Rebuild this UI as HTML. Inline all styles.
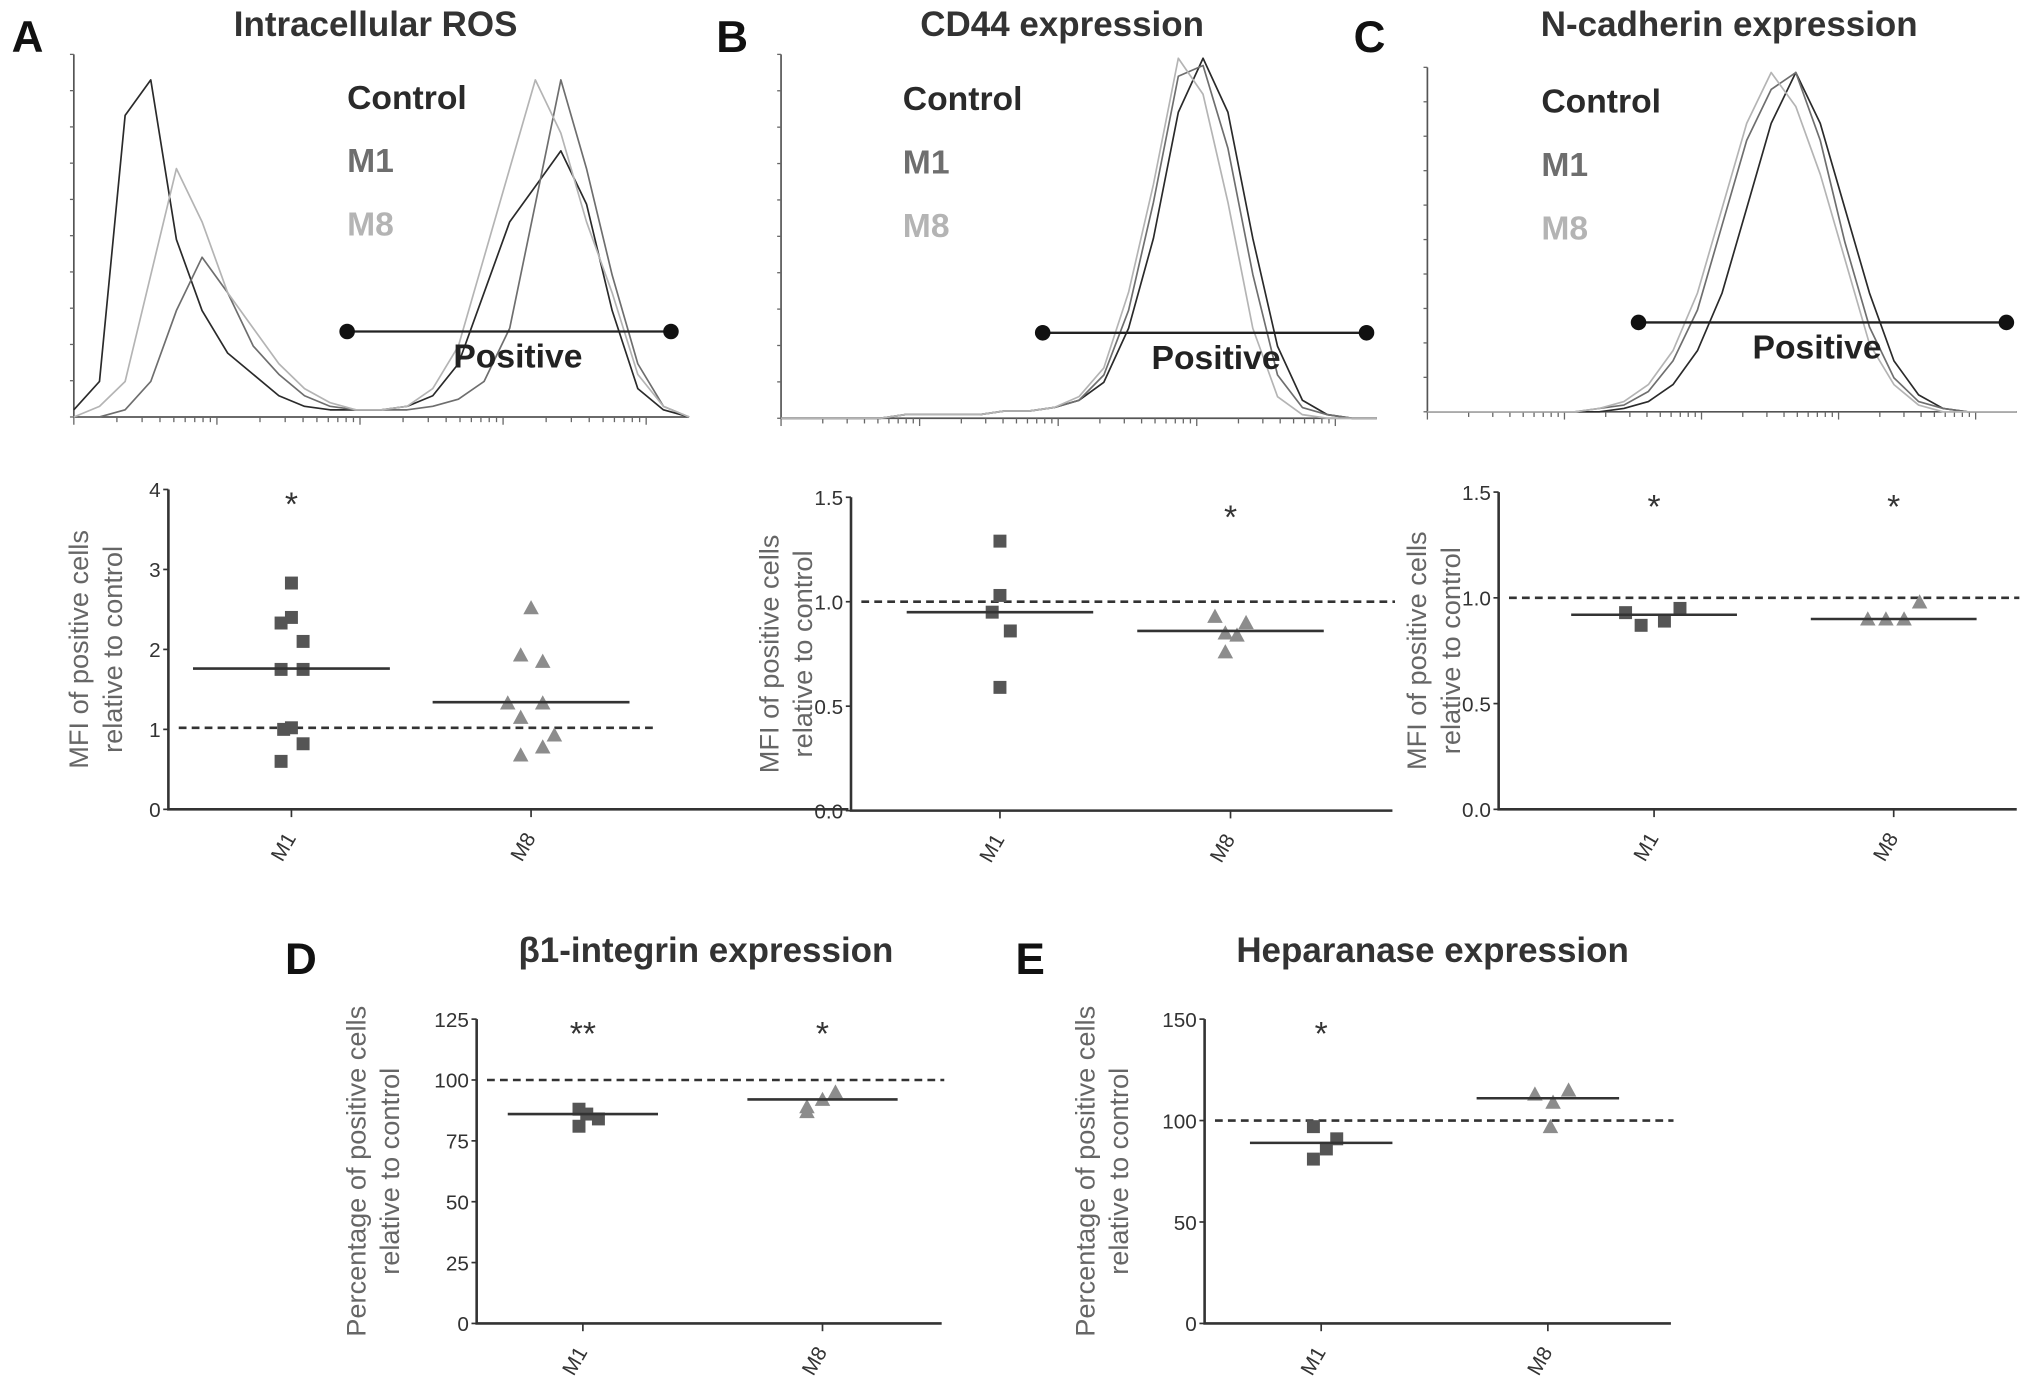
<!DOCTYPE html>
<html><head><meta charset="utf-8"><style>
html,body{margin:0;padding:0;background:#fff;}
svg{display:block;font-family:"Liberation Sans",sans-serif;}
</style></head><body>
<svg id="fig" width="2031" height="1383" viewBox="0 0 1568 1068" preserveAspectRatio="none" xmlns="http://www.w3.org/2000/svg">
<g font-weight="bold" font-size="34" fill="#111">
<text x="9" y="40">A</text>
<text x="553" y="40">B</text>
<text x="1045" y="40">C</text>
<text x="220" y="752">D</text>
<text x="784" y="752">E</text>
</g>
<g font-size="27" font-weight="bold" fill="#333" text-anchor="middle">
<text x="290" y="28">Intracellular ROS</text>
<text x="820" y="28">CD44 expression</text>
<text x="1335" y="28">N-cadherin expression</text>
<text x="545" y="743">β1-integrin expression</text>
<text x="1106" y="743">Heparanase expression</text>
</g>
<g id="layer"></g>
</svg>
<script>
// ---------- histogram data (relative counts, 25 bins across the axis) ----------
const histBins = 25;
const rosControl = [2,10,85,95,50,30,18,12,6,3,2,2,2,3,6,15,35,55,65,75,60,30,8,2,0];
const rosM1 = [0,0,2,10,30,45,35,20,12,6,3,2,2,2,3,5,10,25,60,95,70,40,15,3,0];
const rosM8 = [0,3,10,40,70,55,35,25,15,8,4,2,2,3,8,20,45,70,95,80,55,35,12,3,0];
const cd44Control = [0,0,0,0,0,1,1,1,1,2,2,3,5,10,25,50,85,100,85,50,20,5,1,0,0];
const cd44M1 = [0,0,0,0,0,1,1,1,1,2,2,3,5,12,30,60,95,98,75,40,12,3,1,0,0];
const cd44M8 = [0,0,0,0,0,1,1,1,1,2,2,3,6,14,35,65,100,90,60,25,6,1,0,0,0];
const ncadControl = [0,0,0,0,0,0,0,0,1,3,8,18,35,60,85,100,85,60,35,15,5,1,0,0,0];
const ncadM1 = [0,0,0,0,0,0,0,1,2,6,15,30,55,80,95,100,80,50,25,10,3,1,0,0,0];
const ncadM8 = [0,0,0,0,0,0,0,1,3,8,18,35,60,85,100,90,70,45,20,8,2,0,0,0,0];
const legendLabels = ["Control","M1","M8"];

// ---------- scatter data ----------
const categories = ["M1","M8"];
const aM1 = [2.83,2.4,2.33,2.1,1.75,1.75,1.02,1.0,0.82,0.6];
const aM8 = [2.52,1.93,1.85,1.33,1.33,1.15,0.93,0.78,0.68];
const aMeans = [1.76,1.34];
const aTicks = ["0","1","2","3","4"];
const bM1 = [1.29,1.03,0.95,0.86,0.59];
const bM8 = [0.93,0.9,0.84,0.85,0.76];
const bMeans = [0.95,0.86];
const bTicks = ["0.0","0.5","1.0","1.5"];
const cM1 = [0.93,0.87,0.89,0.95];
const cM8 = [0.9,0.9,0.9,0.98];
const cMeans = [0.92,0.9];
const cTicks = ["0.0","0.5","1.0","1.5"];
const dM1 = [88,84,86,81];
const dM8 = [95,89,92,87];
const dMeans = [86,92];
const dTicks = ["0","25","50","75","100","125"];
const eM1 = [97,81,86,91];
const eM8 = [113,109,97,115];
const eMeans = [89,111];
const eTicks = ["0","50","100","150"];

const NS = "http://www.w3.org/2000/svg";
const layer = document.getElementById("layer");
function mk(tag, attrs, parent){
  const e = document.createElementNS(NS, tag);
  for (const k in attrs) e.setAttribute(k, attrs[k]);
  (parent||layer).appendChild(e);
  return e;
}
const colors = ["#2a2a2a","#6e6e6e","#b4b4b4"];

function histogram(name, box, series, legendX, legendY, gate){
  const g = mk("g",{});
  
  
  const xs = i => box.x0 + (box.x1-box.x0)*i/(histBins-1);
  const ys = v => box.yb - (box.yb-box.yt)*v/100;
  const ax = mk("path",{d:`M${box.x0} ${box.ya} V${box.yb} H${box.x1}`,stroke:"#555","stroke-width":1.3,fill:"none"},g);
  
  
  for(let k=0;k<=10;k++){
    const y = box.yb-(box.yb-box.ya)*k/10;
    mk("line",{x1:box.x0-3,x2:box.x0,y1:y,y2:y,stroke:"#666","stroke-width":1},g);
  }
  const dec=(box.x1-box.x0)/4.3;
  for(let d=0;d<5;d++){for(let m=1;m<10;m++){
    const x=box.x0+dec*(d+Math.log10(m)); if(x>box.x1) break;
    mk("line",{x1:x,x2:x,y1:box.yb,y2:box.yb+(m==1?6:4),stroke:"#666","stroke-width":1},g);
  }}
  series.forEach((s,j)=>{
    let d="";
    s.forEach((v,i)=>{d+=(i?"L":"M")+xs(i).toFixed(1)+" "+ys(v).toFixed(1);});
    const p = mk("path",{d:d,stroke:colors[j],"stroke-width":1.3,fill:"none","stroke-linejoin":"round"},g);
    
    
  });
  legendLabels.forEach((l,j)=>{
    const t = mk("text",{x:legendX,y:legendY+j*49,"font-size":26,"font-weight":"bold",fill:colors[j]},g);
    t.textContent=l;
    
    
  });
  const gl = mk("line",{x1:gate.x0,x2:gate.x1,y1:gate.y,y2:gate.y,stroke:"#222","stroke-width":1.8},g);
  
  
  mk("circle",{cx:gate.x0,cy:gate.y,r:6,fill:"#111"},g);
  mk("circle",{cx:gate.x1,cy:gate.y,r:6,fill:"#111"},g);
  const pt = mk("text",{x:gate.tx,y:gate.y+28,"font-size":26,"font-weight":"bold",fill:"#222"},g);
  pt.textContent="Positive";
  
  
}

histogram("ros-histogram",{x0:57,x1:532,ya:42,yt:48,yb:322},[rosControl,rosM1,rosM8],268,84,{x0:268,x1:518,y:256,tx:350});
histogram("cd44-histogram",{x0:603,x1:1063,ya:42,yt:45,yb:323},[cd44Control,cd44M1,cd44M8],697,85,{x0:805,x1:1055,y:257,tx:889});
histogram("ncadherin-histogram",{x0:1102,x1:1557,ya:52,yt:56,yb:318},[ncadControl,ncadM1,ncadM8],1190,87,{x0:1265,x1:1549,y:249,tx:1353});

function scatter(name, cfg, ticks, m1, m8, means, stars){
  const g = mk("g",{});
  
  
  const ymax = parseFloat(ticks[ticks.length-1]);
  const ys = v => cfg.yb - (cfg.yb-cfg.yt)*v/ymax;
  const ax = mk("path",{d:`M${cfg.x0} ${cfg.yt} V${cfg.yb} H${cfg.x1}`,stroke:"#333","stroke-width":2,fill:"none"},g);
  
  
  ticks.forEach(t=>{
    const y = ys(parseFloat(t));
    mk("line",{x1:cfg.x0-4,x2:cfg.x0,y1:y,y2:y,stroke:"#333","stroke-width":1.3},g);
    const tl = mk("text",{x:cfg.x0-6,y:y+6,"font-size":16,fill:"#333","text-anchor":"end"},g);
    tl.textContent=t;
    
    
  });
  const dl = mk("line",{x1:cfg.x0+8,x2:cfg.dx1,y1:ys(cfg.ref),y2:ys(cfg.ref),stroke:"#333","stroke-width":2,"stroke-dasharray":"6 4"},g);
  
  
  categories.forEach((c,ci)=>{
    const cx = cfg.cx[ci];
    mk("line",{x1:cx,x2:cx,y1:cfg.yb,y2:cfg.yb+6,stroke:"#333","stroke-width":1.3},g);
    const xl = mk("text",{x:cx+4,y:cfg.yb+22,"font-size":16,fill:"#333","text-anchor":"end",transform:`rotate(-60 ${cx+4} ${cfg.yb+22})`},g);
    xl.textContent=c;
    
    
    const vals = ci? m8 : m1;
    const offs = cfg.jit[ci];
    vals.forEach((v,i)=>{
      const x = cx + (offs[i]||0), y = ys(v);
      let mkEl;
      if(ci===0) mkEl = mk("rect",{x:x-5,y:y-5,width:10,height:10,fill:"#555"},g);
      else mkEl = mk("path",{d:`M${x} ${y-6}L${x+6} ${y+5}L${x-6} ${y+5}Z`,fill:"#8c8c8c"},g);
      
      
    });
    const ml = mk("line",{x1:cx-cfg.hw,x2:cx+cfg.hw,y1:ys(means[ci]),y2:ys(means[ci]),stroke:"#333","stroke-width":2},g);
    
    
    if(stars[ci]){
      const st = mk("text",{x:cx,y:cfg.yt+cfg.starDy,"font-size":26,fill:"#333","text-anchor":"middle"},g);
      st.textContent=stars[ci];
      
      
    }
  });
  const yt = mk("text",{"font-size":21,fill:"#666","text-anchor":"middle",transform:`translate(${cfg.tx} ${(cfg.yt+cfg.yb)/2}) rotate(-90)`},g);
  
  
  const t1 = mk("tspan",{x:0,y:0},yt); t1.textContent=cfg.t1;
  const t2 = mk("tspan",{x:0,y:26},yt); t2.textContent=cfg.t2;
}
const jM1a=[0,0,-8,9,-8,9,0,-6,9,-8], jM8a=[0,-8,9,-18,9,-8,18,9,-8];
const mfi1="MFI of positive cells", rel="relative to control", pct="Percentage of positive cells";
scatter("ros-scatter",{x0:130,x1:655,dx1:508,yt:378,yb:625,cx:[225,410],hw:76,ref:1.02,jit:[jM1a,jM8a],tx:68,t1:mfi1,t2:rel,starDy:20},aTicks,aM1,aM8,aMeans,["*",""]);
scatter("cd44-scatter",{x0:657,x1:1075,dx1:1077,yt:384,yb:626,cx:[772,950],hw:72,ref:1.0,jit:[[0,0,-6,8,0],[-12,12,5,-4,-4]],tx:601,t1:mfi1,t2:rel,starDy:24},bTicks,bM1,bM8,bMeans,["","*"]);
scatter("ncadherin-scatter",{x0:1157,x1:1557,dx1:1559,yt:380,yb:625,cx:[1277,1462],hw:64,ref:1.0,jit:[[-22,-10,8,20],[-20,-6,8,20]],tx:1101,t1:mfi1,t2:rel,starDy:20},cTicks,cM1,cM8,cMeans,["*","*"]);
scatter("b1integrin-scatter",{x0:368,x1:727,dx1:729,yt:787,yb:1022,cx:[450,635],hw:58,ref:100,jit:[[-3,12,3,-3],[10,-12,0,-12]],tx:282,t1:pct,t2:rel,starDy:20},dTicks,dM1,dM8,dMeans,["**","*"]);
scatter("heparanase-scatter",{x0:930,x1:1290,dx1:1292,yt:787,yb:1022,cx:[1020,1195],hw:55,ref:100,jit:[[-6,-6,4,12],[-10,4,2,16]],tx:845,t1:pct,t2:rel,starDy:20},eTicks,eM1,eM8,eMeans,["*",""]);
</script>
</body></html>
